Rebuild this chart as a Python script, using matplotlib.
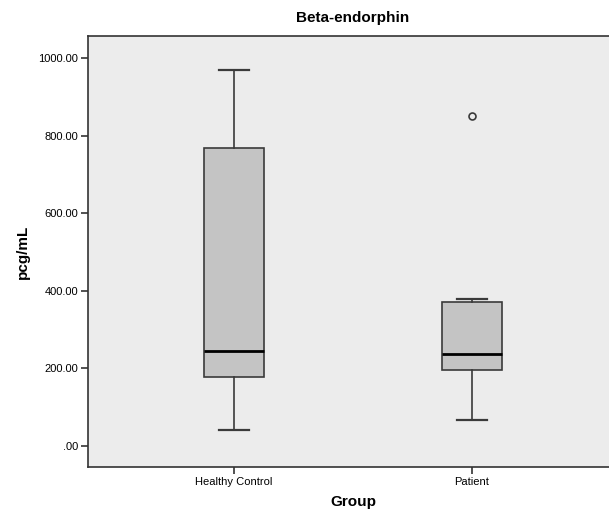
import matplotlib
matplotlib.use("Agg")
import matplotlib.pyplot as plt

# box statistics (pcg/mL)
groups = ["Healthy Control", "Patient"]
whisker_low = [40, 66]
q1 = [177, 197]
median = [246, 236]
q3 = [769, 371]
whisker_high = [970, 380]
outliers = [[], [850]]

yticks = [0, 200, 400, 600, 800, 1000]
ytick_labels = [".00", "200.00", "400.00", "600.00", "800.00", "1000.00"]

plt.rcParams['font.family'] = ['Liberation Sans Narrow', 'Liberation Sans', 'DejaVu Sans']

fig = plt.figure(figsize=(6.09, 5.12), dpi=100)
ax = fig.add_axes([0.1445, 0.088, 0.870, 0.842])
ax.set_facecolor("#ececec")

stats = []
for i, g in enumerate(groups):
    stats.append({"label": g, "whislo": whisker_low[i], "q1": q1[i], "med": median[i],
                  "q3": q3[i], "whishi": whisker_high[i], "fliers": outliers[i]})

ax.bxp(stats, positions=[0, 1], widths=0.252, capwidths=0.126, patch_artist=True,
       boxprops=dict(facecolor="#c4c4c4", edgecolor="#3a3a3a", linewidth=1.2),
       whiskerprops=dict(color="#3a3a3a", linewidth=1.2),
       capprops=dict(color="#3a3a3a", linewidth=1.6),
       medianprops=dict(color="black", linewidth=2.0),
       flierprops=dict(marker="o", markersize=5, markerfacecolor="none",
                       markeredgecolor="#3a3a3a", markeredgewidth=1.2))

ax.set_xlim(-0.613, 1.613)
ax.set_ylim(-54, 1057)
ax.set_yticks(yticks)
ax.set_yticklabels(ytick_labels)
ax.set_xticks([0, 1])
ax.set_xticklabels(groups)
ax.tick_params(direction="out", length=5, width=1.2, labelsize=8, color="#333333", pad=2)

for s in ax.spines.values():
    s.set_color("#333333")
    s.set_linewidth(1.2)

ax.set_title("Beta-endorphin", fontsize=11, fontweight="bold", pad=10)
ax.set_ylabel("pcg/mL", fontsize=11, fontweight="bold", labelpad=6)
ax.set_xlabel("Group", fontsize=11, fontweight="bold", labelpad=6)

fig.savefig("out.png", dpi=100)
